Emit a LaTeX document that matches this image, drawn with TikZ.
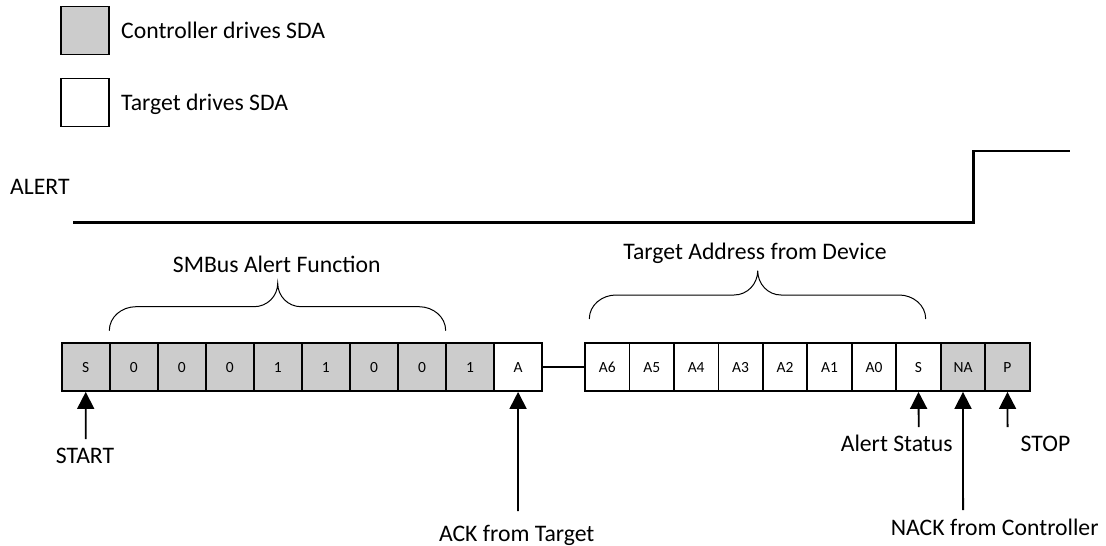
\documentclass[tikz,border=0pt]{standalone}
\usepackage{fontspec}
\setmainfont{Carlito}
\usetikzlibrary{arrows.meta}
\definecolor{boxgray}{RGB}{204,204,204}
\begin{document}
\begin{tikzpicture}[x=1pt,y=-1pt,
  bit/.style={draw, line width=1.8pt, minimum height=48pt, inner sep=0pt, text height=10pt, text depth=0pt, font=\fontsize{15.5}{18}\selectfont},
  legbox/.style={draw, line width=1.8pt, minimum width=48pt, minimum height=48pt, inner sep=0pt},
  lbl/.style={inner sep=0pt, font=\fontsize{23.7}{28}\selectfont},
  arr/.style={line width=1.8pt, -{Triangle[length=17pt,width=17pt]}},
  brace/.style={line width=1pt},
  wave/.style={line width=2.5pt}]
\useasboundingbox (0,0) rectangle (1106,546);

% legend
\node[legbox, fill=boxgray] (lg1) at (85,30.5) {};
\node[legbox, fill=white] (lg2) at (85,102.5) {};
\node[lbl, anchor=base west] (lt1) at (121,38.5) {Controller drives SDA};
\node[lbl, anchor=base west] (lt2) at (121,110) {Target drives SDA};

% ALERT waveform
\node[lbl, anchor=base west] (alert) at (10,194.3) {ALERT};
\coordinate (w0) at (73,222.3);
\coordinate (w1) at (973.7,222.3);
\coordinate (w2) at (973.7,151);
\coordinate (w3) at (1070.3,151);
\draw[wave, line join=miter] (w0) -- (w1) -- (w2) -- (w3);

% first group of bits
\foreach \t/\f [count=\i] in {S/boxgray,0/boxgray,0/boxgray,0/boxgray,1/boxgray,1/boxgray,0/boxgray,0/boxgray,1/boxgray,A/white}
  \node[bit, minimum width=48.04pt, fill=\f] (b\i) at ({61.7+48.04*(\i-0.5)},367) {\t};

% second group of bits
\foreach \t/\f [count=\i] in {A6/white,A5/white,A4/white,A3/white,A2/white,A1/white,A0/white,S/white,NA/boxgray,P/boxgray}
  \node[bit, minimum width=44.47pt, fill=\f] (c\i) at ({585+44.47*(\i-0.5)},367) {\t};

\draw[line width=1.8pt] (b10.east) -- (c1.west);

% braces
\draw[brace] (109.3,330.7) to[out=90,in=180] (136,306.7) -- (254,306.7)
  to[out=0,in=-90] (277.7,283.3) to[out=-90,in=180] (301,306.7) -- (419,306.7)
  to[out=0,in=90] (445.7,330.7);
\node[lbl, anchor=base] (fn) at (276.7,272.3) {SMBus Alert Function};

\draw[brace] (589.3,319) to[out=90,in=180] (616,295) -- (734,295)
  to[out=0,in=-90] (757.7,270.7) to[out=-90,in=180] (781,295) -- (899,295)
  to[out=0,in=90] (925.7,319);
\node[lbl, anchor=base] (ta) at (755,259.3) {Target Address from Device};

% arrows and labels
\coordinate (tS) at (85.7,439);
\draw[arr] (tS) -- (b1.south);
\node[lbl, anchor=base] (lS) at (85,463.3) {START};

\coordinate (tA) at (518,511);
\draw[arr] (tA) -- (b10.south);
\node[lbl, anchor=base] (lA) at (516.7,541.7) {ACK from Target};

\coordinate (tAS) at (918.7,427);
\draw[arr] (tAS) -- (c8.south);
\node[lbl, anchor=base] (lAS) at (896.7,451.7) {Alert Status};

\coordinate (tNA) at (963.1,510);
\draw[arr] (tNA) -- (c9.south);
\node[lbl, anchor=base] (lNA) at (994.7,535) {NACK from Controller};

\coordinate (tP) at (1007.6,427);
\draw[arr] (tP) -- (c10.south);
\node[lbl, anchor=base] (lP) at (1045.5,451.7) {STOP};
\end{tikzpicture}
\end{document}
